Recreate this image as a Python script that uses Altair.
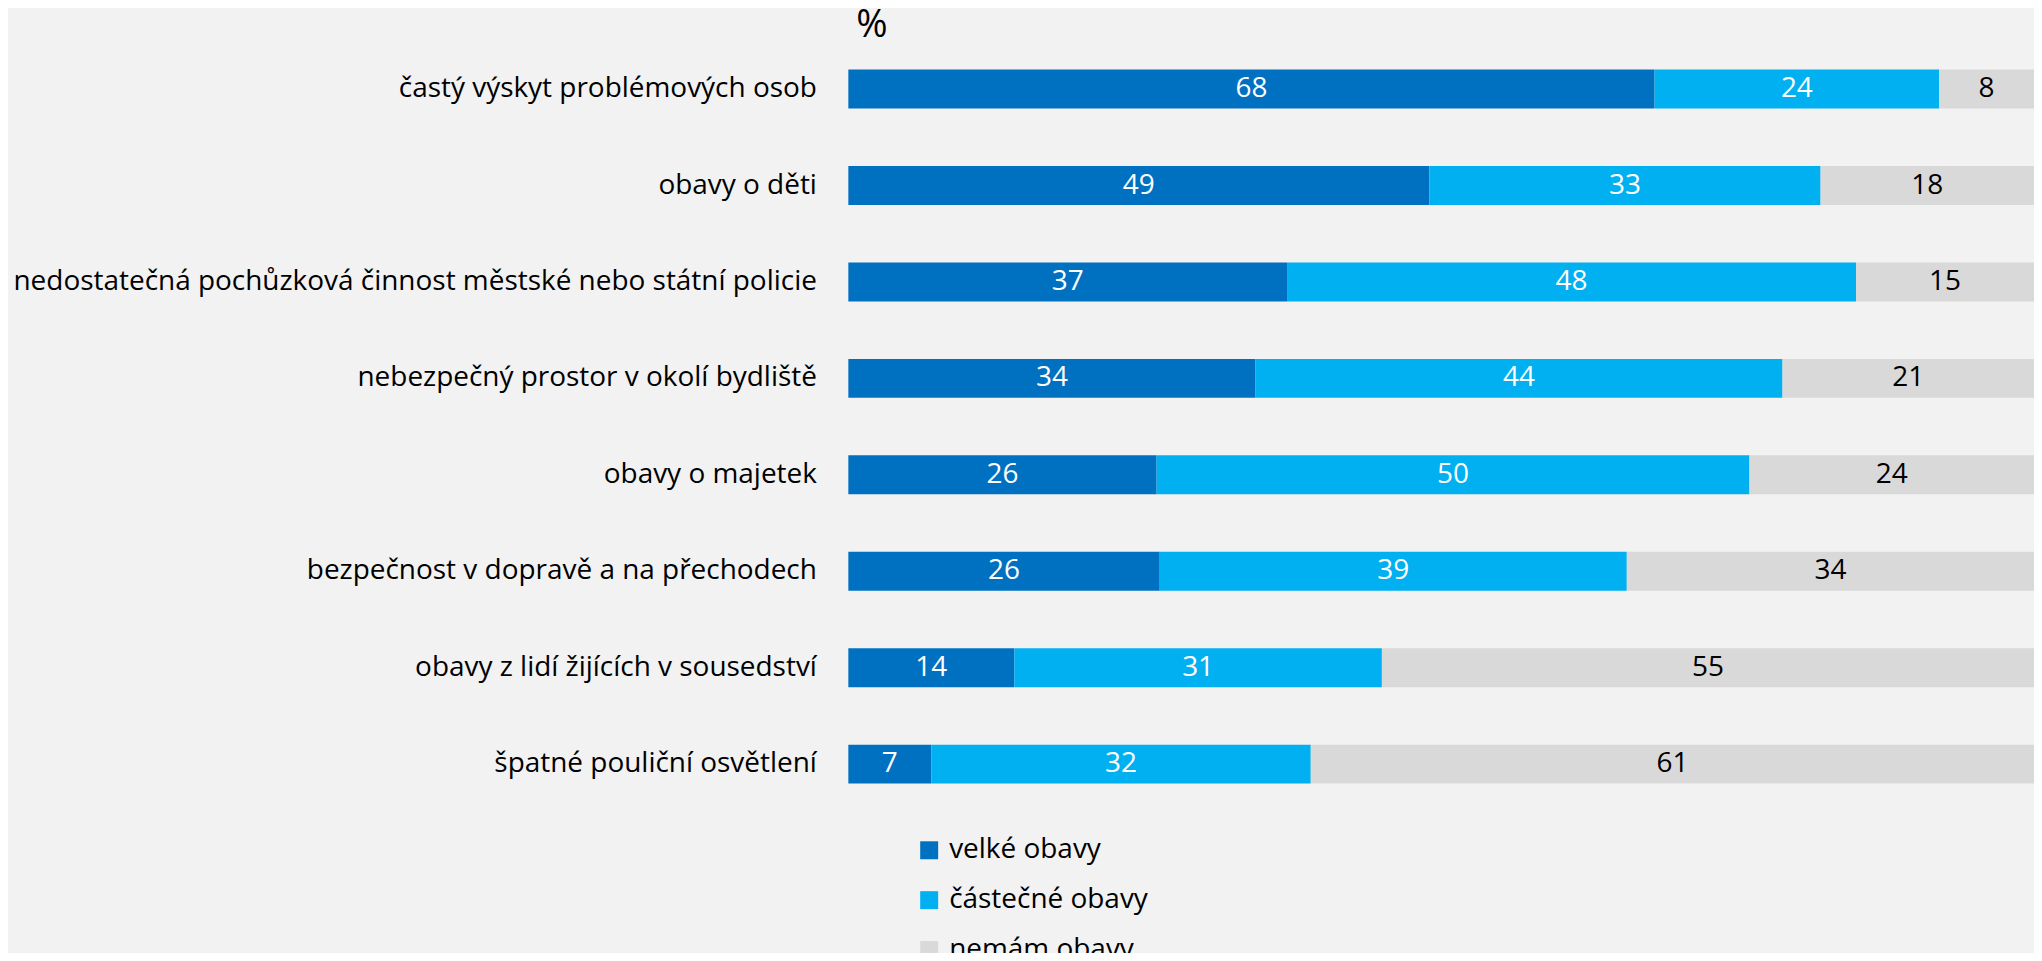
import altair as alt
import pandas as pd

categories = [
    "častý výskyt problémových osob",
    "obavy o děti",
    "nedostatečná pochůzková činnost městské nebo státní policie",
    "nebezpečný prostor v okolí bydliště",
    "obavy o majetek",
    "bezpečnost v dopravě a na přechodech",
    "obavy z lidí žijících v sousedství",
    "špatné pouliční osvětlení",
]
velke = [68, 49, 37, 34, 26, 26, 14, 7]
castecne = [24, 33, 48, 44, 50, 39, 31, 32]
nemam = [8, 18, 15, 21, 24, 34, 55, 61]
series = ["velké obavy", "částečné obavy", "nemám obavy"]
colors = ["#0070C0", "#00B0F0", "#D9D9D9"]
text_colors = ["white", "white", "black"]

rows = []
for i, c in enumerate(categories):
    for j, (s, vals) in enumerate(zip(series, [velke, castecne, nemam])):
        rows.append({"cat": c, "series": s, "value": vals[i], "ord": j,
                     "tcolor": text_colors[j]})
df = pd.DataFrame(rows)

FONT = "Open Sans"
FS = 28

base = alt.Chart(df).transform_joinaggregate(
    total="sum(value)", groupby=["cat"]
).transform_calculate(
    pct="datum.value / datum.total * 100"
).transform_stack(
    stack="pct", groupby=["cat"], sort=[alt.SortField("ord", order="ascending")],
    as_=["x0", "x1"]
).transform_calculate(
    mid="(datum.x0 + datum.x1) / 2"
)

yenc = alt.Y("cat:N", sort=categories, title=None,
             scale=alt.Scale(paddingInner=0, paddingOuter=0),
             axis=alt.Axis(domain=False, ticks=False, grid=False,
                           labelFontSize=FS, labelFont=FONT, labelColor="#000000",
                           labelPadding=32, labelLimit=1000))
xscale = alt.Scale(domain=[0, 100], nice=False, zero=True)

bars = base.mark_bar(size=39).encode(
    x=alt.X("x0:Q", scale=xscale, axis=None),
    x2="x1:Q",
    y=yenc,
    color=alt.Color("series:N", sort=series,
                    scale=alt.Scale(domain=series, range=colors),
                    legend=alt.Legend(title=None, orient="none", legendX=67, legendY=797,
                                      symbolType="square", symbolSize=324,
                                      symbolStrokeWidth=0,
                                      labelFontSize=FS, labelFont=FONT, labelColor="#000000",
                                      labelLimit=600,
                                      rowPadding=22, labelOffset=6, direction="vertical")),
    order=alt.Order("ord:Q"),
)

labels = base.mark_text(fontSize=FS, font=FONT, baseline="middle", align="center").encode(
    x=alt.X("mid:Q", scale=xscale),
    y=alt.Y("cat:N", sort=categories),
    text=alt.Text("value:Q"),
    color=alt.Color("tcolor:N", scale=None),
)

chart = alt.layer(bars, labels).properties(
    width=1188, height=773,
    title=alt.TitleParams("%", anchor="start", frame="group", fontSize=38, font=FONT,
                          fontWeight="normal", color="#000000", offset=-4, dx=8),
    autosize=alt.AutoSizeParams(type="none"),
    padding={"left": 842, "top": 32, "right": 0, "bottom": 140},
).configure(background="#F2F2F2").configure_view(stroke=None).configure_title(
    fontSize=38, font=FONT, fontWeight="normal", color="#000000"
)

chart.save("out.html", embed_options={"renderer": "svg", "actions": False})
